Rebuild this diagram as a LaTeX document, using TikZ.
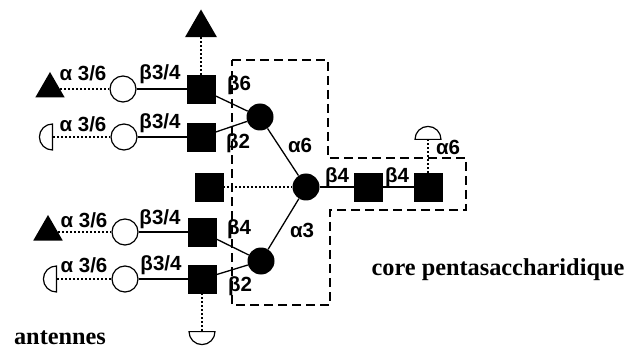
\documentclass[tikz,border=0pt]{standalone}
\usepackage{fontspec}
\setmainfont{Liberation Serif}
\newfontfamily\labelfont{Liberation Sans}
\usepackage{tikz}
\usetikzlibrary{shapes.geometric}
\tikzset{
  sqbox/.style={draw=black, fill=black, inner sep=0pt, minimum size=28pt},
  opencirc/.style={circle, draw=black, fill=white, line width=1.2pt, inner sep=0pt, minimum size=26pt},
  fullcirc/.style={circle, fill=black, inner sep=0pt, minimum size=27pt},
  tribox/.style={regular polygon, regular polygon sides=3, fill=black, inner sep=0pt, minimum size=34pt},
  halfcirc/.style={semicircle, draw=black, fill=white, line width=1.2pt, inner sep=0pt, minimum size=13pt, anchor=chord center},
  lnk/.style={line width=1.3pt, black},
  dlnk/.style={line width=2pt, black, dash pattern=on 2pt off 2pt},
  lbl/.style={font=\labelfont\bfseries\fontsize{20.5}{20.5}\selectfont, inner sep=0pt},
  capt/.style={font=\bfseries\fontsize{24.3}{24.3}\selectfont, inner sep=0pt},
}
\begin{document}
\begin{tikzpicture}[x=1pt, y=-1pt]
  \useasboundingbox (0,0) rectangle (627,350);

  %% Core outline
  \draw[line width=1.2pt, dash pattern=on 9pt off 5pt] (232,60) -- (328,60) -- (328,158) -- (466,158) -- (466,210) -- (330,210) -- (330,305) -- (232,305) -- cycle;

  %% Upper antennes
  \node[tribox, minimum size=37pt] (t0) at (201,28) {};
  \node[tribox] (t1) at (50,89) {};
  \node[halfcirc, rotate=90] (h1) at (53,137) {};
  \node[opencirc] (c1) at (123,89) {};
  \node[opencirc] (c2) at (124,137) {};
  \node[sqbox] (s1) at (201,89) {};
  \node[sqbox] (s2) at (201,137) {};
  \node[fullcirc] (f1) at (260,117) {};
  \draw[dlnk] (s1) -- (t0);
  \draw[dlnk] (t1) -- (c1);
  \draw[dlnk] (h1.chord center) -- (c2);
  \draw[lnk] (c1) -- (s1);
  \draw[lnk] (c2) -- (s2);
  \draw[lnk] (s1) -- (f1);
  \draw[lnk] (s2) -- (f1);

  %% Lower antennes
  \node[tribox] (t2) at (48,232) {};
  \node[halfcirc, rotate=90] (h2) at (57,279) {};
  \node[halfcirc, rotate=180] (h3) at (202,331) {};
  \node[opencirc] (c3) at (125,232) {};
  \node[opencirc] (c4) at (125,279) {};
  \node[sqbox] (s4) at (202,232) {};
  \node[sqbox] (s5) at (202,279) {};
  \node[fullcirc] (f2) at (261,261) {};
  \draw[dlnk] (t2) -- (c3);
  \draw[dlnk] (h2.chord center) -- (c4);
  \draw[dlnk] (s5) -- (h3.chord center);
  \draw[lnk] (c3) -- (s4);
  \draw[lnk] (c4) -- (s5);
  \draw[lnk] (s4) -- (f2);
  \draw[lnk] (s5) -- (f2);

  %% Core
  \node[sqbox] (s3) at (209,187) {};
  \node[fullcirc] (f3) at (306,187) {};
  \node[sqbox] (s6) at (368,187) {};
  \node[sqbox] (s7) at (428,187) {};
  \node[halfcirc] (h4) at (428,140) {};
  \draw[dlnk] (s3) -- (f3);
  \draw[lnk] (f1) -- (f3);
  \draw[lnk] (f2) -- (f3);
  \draw[lnk] (f3) -- (s6);
  \draw[lnk] (s6) -- (s7);
  \draw[dlnk] (s7) -- (h4.chord center);

  %% Labels
  \node[lbl] (a1) at (83,73) {α 3/6};
  \node[lbl] (a2) at (83,124) {α 3/6};
  \node[lbl] (a3) at (84,220) {α 3/6};
  \node[lbl] (a4) at (84,265) {α 3/6};
  \node[lbl] (b1) at (160,74) {β3/4};
  \node[lbl] (b2) at (160,123) {β3/4};
  \node[lbl] (b3) at (160,219) {β3/4};
  \node[lbl] (b4) at (161,265) {β3/4};
  \node[lbl] (b5) at (239,85) {β6};
  \node[lbl] (b6) at (238,143) {β2};
  \node[lbl] (b7) at (239,229) {β4};
  \node[lbl] (b8) at (240,286) {β2};
  \node[lbl] (a5) at (300,145) {α6};
  \node[lbl] (a6) at (302,230) {α3};
  \node[lbl] (b9) at (337,177) {β4};
  \node[lbl] (b10) at (397,177) {β4};
  \node[lbl] (a7) at (448,147) {α6};
  \node[capt] (core) at (498,270) {core pentasaccharidique};
  \node[capt] (ant) at (60,338) {antennes};
\end{tikzpicture}
\end{document}
